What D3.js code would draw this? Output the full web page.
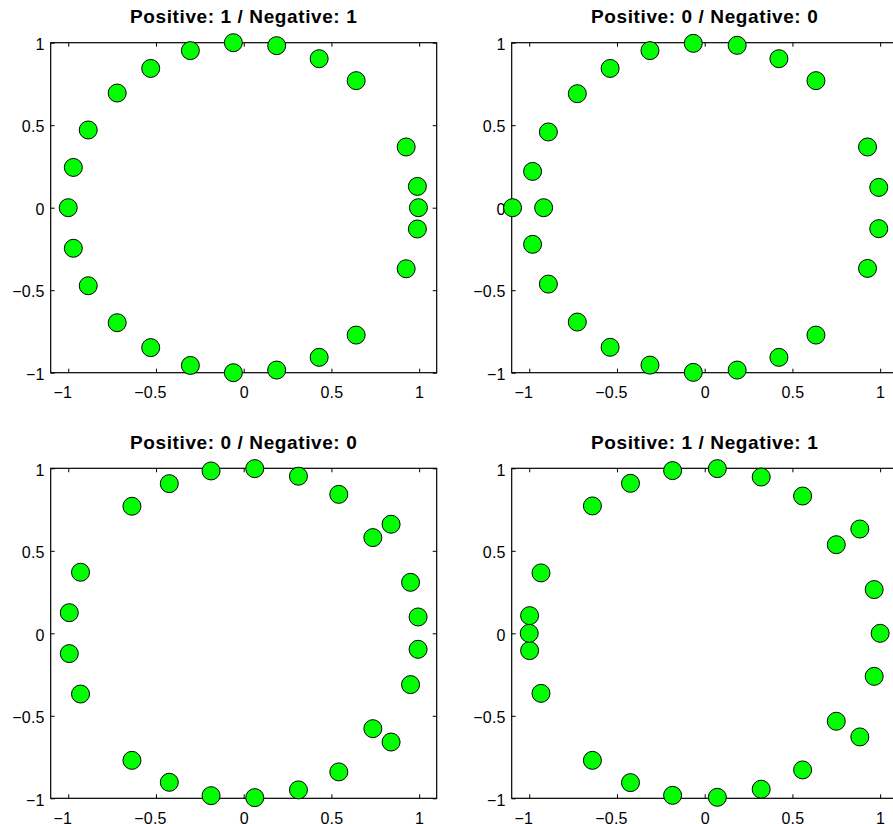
<!DOCTYPE html>
<html>
<head>
<meta charset="utf-8">
<script src="https://cdn.jsdelivr.net/npm/d3@7"></script>
<style>
  body { margin: 0; background: #fff; }
  svg { display: block; }
  .tick text { font-family: "Liberation Sans", Arial, sans-serif; font-size: 16px; letter-spacing: 0.2px; fill: #000; }
  .title { font-family: "Liberation Sans", Arial, sans-serif; font-size: 19px; font-weight: bold; letter-spacing: 0.6px; }
</style>
</head>
<body>
<script>
// titles of the four panels (row by row)
const titles = [
  'Positive: 1 / Negative: 1',
  'Positive: 0 / Negative: 0',
  'Positive: 0 / Negative: 0',
  'Positive: 1 / Negative: 1'
]

const tickValues = [-1, -0.5, 0, 0.5, 1]

// point coordinates
const panel1X = [-0.059, 0.188, 0.43, 0.641, 0.926, 0.99, 0.996, 0.99, 0.926, 0.641, 0.43, 0.188,
  -0.059, -0.304, -0.53, -0.721, -0.886, -0.971, -1.0, -0.971, -0.886, -0.721, -0.53, -0.304]
const panel1Y = [1.0, 0.982, 0.903, 0.77, 0.368, 0.129, 0, -0.129, -0.37, -0.772, -0.907, -0.984,
  -1.0, -0.956, -0.848, -0.697, -0.473, -0.246, 0, 0.244, 0.471, 0.695, 0.844, 0.952]

const panel2X = [-0.065, 0.185, 0.423, 0.634, 0.928, 0.992, 0.992, 0.928, 0.634, 0.423, 0.185, -0.065,
  -0.312, -0.539, -0.726, -0.891, -0.981, -0.918, -1.095, -0.981, -0.891, -0.726, -0.539, -0.312]
const panel2Y = [0.996, 0.984, 0.903, 0.77, 0.368, 0.123, -0.127, -0.368, -0.772, -0.907, -0.984, -0.998,
  -0.954, -0.846, -0.693, -0.463, -0.222, 0, 0, 0.22, 0.459, 0.691, 0.844, 0.952]

const panel3X = [0.063, 0.312, 0.542, 0.84, 0.736, 0.951, 0.994, 0.994, 0.951, 0.736, 0.84, 0.542,
  0.312, 0.063, -0.186, -0.424, -0.637, -0.93, -0.994, -0.994, -0.93, -0.637, -0.424, -0.186]
const panel3Y = [0.998, 0.952, 0.842, 0.661, 0.58, 0.309, 0.099, -0.097, -0.311, -0.578, -0.659, -0.84,
  -0.949, -0.996, -0.984, -0.903, -0.77, -0.368, -0.123, 0.125, 0.37, 0.77, 0.907, 0.984]

const panel4X = [0.072, 0.322, 0.558, 0.884, 0.75, 0.966, 1.0, 0.966, 0.75, 0.884, 0.558, 0.322,
  0.072, -0.183, -0.423, -0.64, -0.933, -0.998, -1.0, -0.998, -0.933, -0.64, -0.423, -0.183]
const panel4Y = [0.998, 0.947, 0.832, 0.632, 0.537, 0.265, 0, -0.261, -0.533, -0.628, -0.828, -0.945,
  -0.994, -0.982, -0.905, -0.77, -0.364, -0.105, 0, 0.107, 0.366, 0.772, 0.909, 0.986]

const panelsX = [panel1X, panel2X, panel3X, panel4X]
const panelsY = [panel1Y, panel2Y, panel3Y, panel4Y]

const width = 893
const height = 824
const boxW = 386
const boxH = 330
const lefts = [50.7, 511.7]
const tops = [42.7, 468.3]

const svg = d3.select('body').append('svg')
    .attr('width', width)
    .attr('height', height)

const fmt = d3.format('~g')

titles.forEach((title, i) => {
  const left = lefts[i % 2]
  const top = tops[Math.floor(i / 2)]

  const x = d3.scaleLinear().domain([-1.1, 1.1]).range([0, boxW])
  const y = d3.scaleLinear().domain([-1, 1]).range([boxH, 0])

  const g = svg.append('g')
      .attr('transform', `translate(${left}, ${top})`)

  const xAxis = g.append('g')
      .attr('transform', `translate(0, ${boxH})`)
      .call(d3.axisBottom(x).tickValues(tickValues).tickSize(-4).tickPadding(14).tickFormat(fmt))
  // negative labels sit a little left of their tick in the original
  xAxis.selectAll('.tick text').attr('dx', (d) => d < 0 ? -6 : 0)

  g.append('g')
      .call(d3.axisLeft(y).tickValues(tickValues).tickSize(-4).tickPadding(6).tickFormat(fmt))
    .selectAll('.tick text').attr('dy', '0.42em')

  g.append('g')
      .call(d3.axisTop(x).tickValues(tickValues).tickSize(-4).tickFormat(''))

  g.append('g')
      .attr('transform', `translate(${boxW}, 0)`)
      .call(d3.axisRight(y).tickValues(tickValues).tickSize(-4).tickFormat(''))

  g.selectAll('.domain').remove()
  g.selectAll('.tick line').attr('stroke', '#000')

  g.append('rect')
      .attr('width', boxW)
      .attr('height', boxH)
      .attr('fill', 'none')
      .attr('stroke', '#000')
      .attr('stroke-width', 1.2)

  g.append('text')
      .attr('class', 'title')
      .attr('x', boxW / 2)
      .attr('y', -19.5)
      .attr('text-anchor', 'middle')
      .text(title)

  const pts = panelsX[i].map((v, j) => ({x: v, y: panelsY[i][j]}))

  g.selectAll('circle')
    .data(pts)
    .enter().append('circle')
      .attr('cx', (d) => x(d.x))
      .attr('cy', (d) => y(d.y))
      .attr('r', 9)
      .attr('fill', '#00ff00')
      .attr('stroke', '#000')
      .attr('stroke-width', 1)
})
</script>
</body>
</html>
